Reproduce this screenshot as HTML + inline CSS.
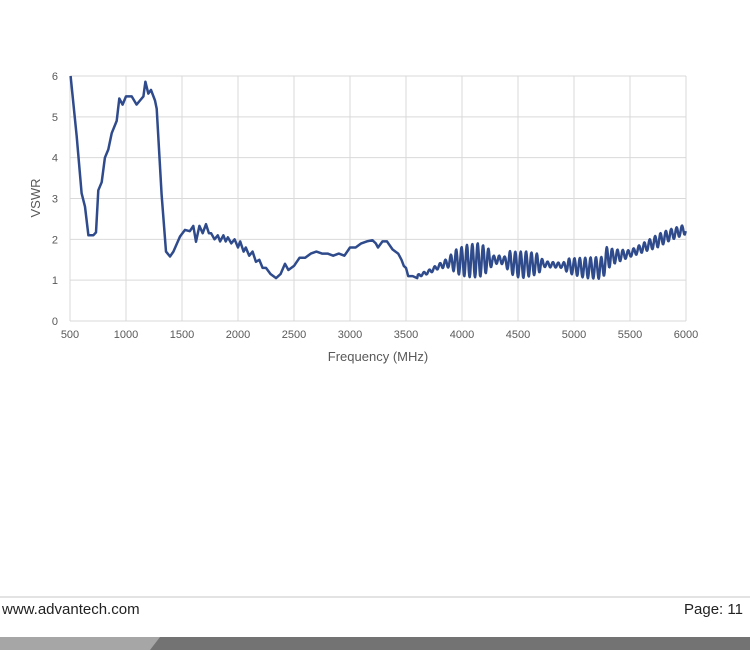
<!DOCTYPE html>
<html><head><meta charset="utf-8"><style>
body{margin:0;width:750px;height:650px;background:#fff;overflow:hidden;position:relative;font-family:"Liberation Sans",sans-serif}
svg{position:absolute;left:0;top:0}
</style></head><body>
<svg width="750" height="650" viewBox="0 0 750 650" xmlns="http://www.w3.org/2000/svg">
<g stroke="#d9d9d9" stroke-width="1" fill="none" id="grid"></g>
<g font-family="Liberation Sans, sans-serif" font-size="11" fill="#595959" id="labels"></g>
<text x="378" y="361" font-size="13" fill="#595959" text-anchor="middle" font-family="Liberation Sans, sans-serif">Frequency (MHz)</text>
<text transform="translate(40,198) rotate(-90)" font-size="13" fill="#595959" text-anchor="middle" font-family="Liberation Sans, sans-serif">VSWR</text>
<path id="curve" fill="none" stroke="#2f4b8c" stroke-width="2.5" stroke-linejoin="round"/>
<line x1="0" y1="597" x2="750" y2="597" stroke="#e3e3e3" stroke-width="2"/>
<text x="2" y="614" font-size="15" fill="#222" font-family="Liberation Sans, sans-serif">www.advantech.com</text>
<text x="684" y="614" font-size="15" fill="#222" font-family="Liberation Sans, sans-serif">Page: 11</text>
<rect x="0" y="637" width="750" height="13" fill="#737373"/>
<polygon points="0,637 160,637 150,650 0,650" fill="#a6a6a6"/>
</svg>
<script>
var X=function(f){return 70+(f-500)*616/5500},Y=function(v){return 321-v*40.83};
var g=document.getElementById('grid'),l=document.getElementById('labels'),s='',t='';
for(var i=0;i<=6;i++){var y=Y(i);s+='<line x1="70" y1="'+y+'" x2="686" y2="'+y+'"/>';t+='<text x="58" y="'+(y+4)+'" text-anchor="end">'+i+'</text>';}
for(var f=500;f<=6000;f+=500){var x=X(f);s+='<line x1="'+x+'" y1="76" x2="'+x+'" y2="321"/>';t+='<text x="'+x+'" y="338" text-anchor="middle">'+f+'</text>';}
g.innerHTML=s;l.innerHTML=t;
var d=[[505,6],[560,4.52],[604,3.13],[634,2.8],[664,2.1],[708,2.1],[732,2.17],[753,3.2],[783,3.4],[812,4.0],[842,4.2],[872,4.6],[917,4.9],[940,5.45],[970,5.3],[1000,5.5],[1051,5.5],[1095,5.3],[1125,5.4],[1155,5.5],[1173,5.86],[1199,5.57],[1223,5.66],[1259,5.4],[1274,5.2],[1318,3.1],[1357,1.7],[1393,1.58],[1423,1.7],[1482,2.07],[1527,2.23],[1570,2.2],[1601,2.33],[1625,1.94],[1655,2.33],[1685,2.15],[1714,2.37],[1740,2.15],[1760,2.15],[1790,2],[1820,2.1],[1840,1.95],[1870,2.1],[1890,1.95],[1910,2.05],[1940,1.9],[1970,2],[2000,1.8],[2020,1.95],[2050,1.7],[2070,1.8],[2100,1.6],[2130,1.7],[2160,1.45],[2190,1.5],[2220,1.3],[2250,1.3],[2290,1.15],[2340,1.05],[2380,1.15],[2420,1.4],[2450,1.25],[2500,1.35],[2550,1.55],[2600,1.55],[2650,1.65],[2700,1.7],[2750,1.65],[2800,1.65],[2850,1.6],[2900,1.65],[2950,1.6],[3000,1.8],[3050,1.8],[3100,1.9],[3150,1.95],[3200,1.98],[3230,1.9],[3250,1.8],[3290,1.95],[3330,1.95],[3380,1.75],[3430,1.65],[3460,1.5],[3480,1.35],[3500,1.3],[3520,1.1],[3560,1.1],[3600,1.05]];
function interp(pts,f){for(var i=1;i<pts.length;i++){if(f<=pts[i][0]){var a=pts[i-1],b=pts[i];return a[1]+(b[1]-a[1])*(f-a[0])/(b[0]-a[0]);}}return pts[pts.length-1][1];}
var base=[[3600,1.1],[3700,1.2],[3800,1.35],[3900,1.45],[4100,1.48],[4250,1.5],[4350,1.5],[4500,1.38],[4700,1.4],[4950,1.35],[5100,1.3],[5250,1.3],[5300,1.55],[5500,1.65],[5700,1.9],[5850,2.1],[6000,2.25]];
var amp=[[3600,0.03],[3800,0.06],[3880,0.12],[3950,0.3],[4050,0.4],[4150,0.42],[4230,0.3],[4280,0.1],[4380,0.1],[4430,0.28],[4550,0.33],[4680,0.25],[4730,0.07],[4900,0.06],[4950,0.18],[5100,0.25],[5250,0.27],[5290,0.3],[5350,0.18],[5500,0.08],[5650,0.12],[5750,0.16],[5900,0.13],[6000,0.12]];
for(var f=3605;f<=6000;f+=4){d.push([f,interp(base,f)+interp(amp,f)*Math.sin((f-3600)/48*2*Math.PI)]);}
var p='';for(var i=0;i<d.length;i++)p+=(i?'L':'M')+X(d[i][0]).toFixed(1)+' '+Y(d[i][1]).toFixed(1);
document.getElementById('curve').setAttribute('d',p);
</script>
</body></html>
